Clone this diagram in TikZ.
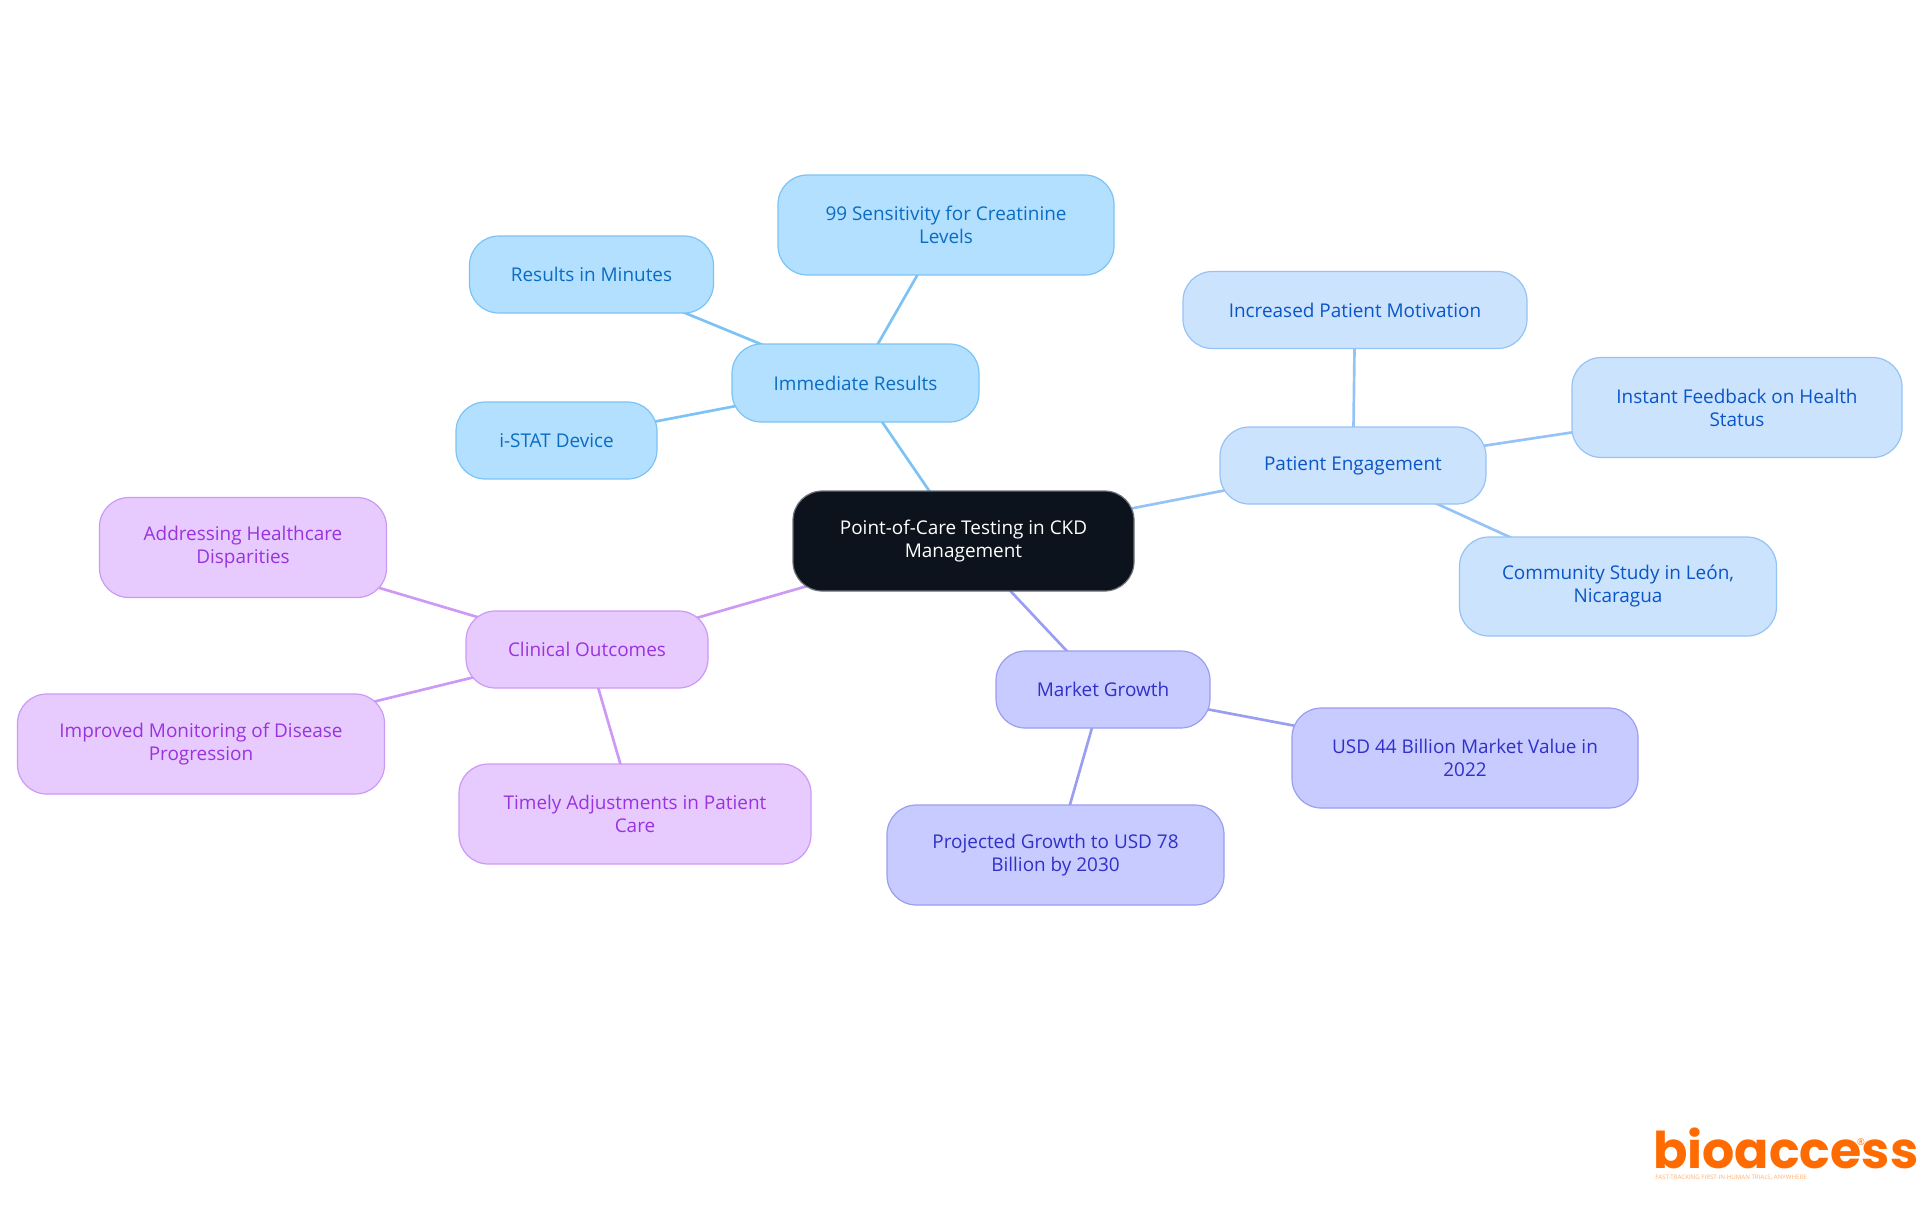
\documentclass[tikz,border=0pt]{standalone}
\usepackage{fontspec}
\usetikzlibrary{backgrounds}
\setmainfont{Open Sans}
\newfontfamily\logofont{Poppins}[UprightFont=*-Bold]
\definecolor{rootfill}{HTML}{0C131C}
\definecolor{rootline}{HTML}{6E7278}
\definecolor{afill}{HTML}{B3E0FF}\definecolor{aline}{HTML}{7CC3F5}\definecolor{atext}{HTML}{0A6CC2}
\definecolor{bfill}{HTML}{CCE3FD}\definecolor{bline}{HTML}{96C3F5}\definecolor{btext}{HTML}{0A55C8}
\definecolor{cfill}{HTML}{C8CBFF}\definecolor{cline}{HTML}{9A9EF0}\definecolor{ctext}{HTML}{3030C8}
\definecolor{dfill}{HTML}{E7CBFF}\definecolor{dline}{HTML}{CC99F5}\definecolor{dtext}{HTML}{9933DD}
\definecolor{logoorange}{HTML}{FF6B00}
\tikzset{
  x=0.75pt,y=-0.75pt,
  mm/.style={rounded corners=22pt,inner sep=0pt,outer sep=0pt,align=center,line width=0.9pt,
    font=\fontsize{14.2pt}{17.25pt}\selectfont},
  sz/.style n args={2}{minimum width=#1*0.75pt,minimum height=#2*0.75pt},
  rootbox/.style={mm,fill=rootfill,draw=rootline,text=white},
  abox/.style={mm,fill=afill,draw=aline,text=atext},
  bbox/.style={mm,fill=bfill,draw=bline,text=btext},
  cbox/.style={mm,fill=cfill,draw=cline,text=ctext},
  dbox/.style={mm,fill=dfill,draw=dline,text=dtext},
  link/.style={line width=2pt},
}
\begin{document}
\begin{tikzpicture}
\path[use as bounding box] (0,0) rectangle (1920,1215);
\node[rootbox,sz={341}{100}] (root) at (963.5,541) {Point-of-Care Testing in CKD\\Management};
\node[abox,sz={247}{78}] (imm) at (855.5,383) {Immediate Results};
\node[abox,sz={336}{100}] (sen) at (946,225) {99 Sensitivity for Creatinine\\Levels};
\node[abox,sz={244}{77}] (min) at (591.5,274.5) {Results in Minutes};
\node[abox,sz={201}{77}] (ist) at (556.5,440.5) {i-STAT Device};
\node[bbox,sz={266}{77}] (pat) at (1353,465.5) {Patient Engagement};
\node[bbox,sz={344}{77}] (inc) at (1355,310) {Increased Patient Motivation};
\node[bbox,sz={330}{100}] (ins) at (1737,407.5) {Instant Feedback on Health\\Status};
\node[bbox,sz={317}{99}] (com) at (1618,586.5) {Community Study in León,\\Nicaragua};
\node[cbox,sz={214}{77}] (mkt) at (1103,689.5) {Market Growth};
\node[cbox,sz={346}{100}] (usd) at (1465,758) {USD 44 Billion Market Value in\\2022};
\node[cbox,sz={337}{100}] (pro) at (1055.5,855) {Projected Growth to USD 78\\Billion by 2030};
\node[dbox,sz={242}{77}] (cli) at (587,649.5) {Clinical Outcomes};
\node[dbox,sz={287}{100}] (add) at (243,547.5) {Addressing Healthcare\\Disparities};
\node[dbox,sz={367}{100}] (imp) at (201,744) {Improved Monitoring of Disease\\Progression};
\node[dbox,sz={352}{100}] (tim) at (635,814) {Timely Adjustments in Patient\\Care};
\begin{scope}[on background layer]
\draw[link,aline] (root.center) -- (imm.center);
\draw[link,aline] (imm.center) -- (sen.center);
\draw[link,aline] (imm.center) -- (min.center);
\draw[link,aline] (imm.center) -- (ist.center);
\draw[link,bline] (root.center) -- (pat.center);
\draw[link,bline] (pat.center) -- (inc.center);
\draw[link,bline] (pat.center) -- (ins.center);
\draw[link,bline] (pat.center) -- (com.center);
\draw[link,cline] (root.center) -- (mkt.center);
\draw[link,cline] (mkt.center) -- (usd.center);
\draw[link,cline] (mkt.center) -- (pro.center);
\draw[link,dline] (root.center) -- (cli.center);
\draw[link,dline] (cli.center) -- (add.center);
\draw[link,dline] (cli.center) -- (imp.center);
\draw[link,dline] (cli.center) -- (tim.center);
\end{scope}
\node[anchor=base west,inner sep=0pt,text=logoorange,font=\logofont\fontsize{38pt}{38pt}\selectfont] (logo) at (1653,1168) {bioaccess};
\node[inner sep=0pt,text=logoorange,font=\fontsize{7pt}{7pt}\selectfont] (reg) at (1861,1142) {®};
\node[anchor=base west,inner sep=0pt,text=logoorange!55,font=\fontsize{4.6pt}{5pt}\selectfont] (tag) at (1655,1179) {FAST-TRACKING FIRST-IN-HUMAN TRIALS, ANYWHERE};
\end{tikzpicture}
\end{document}
